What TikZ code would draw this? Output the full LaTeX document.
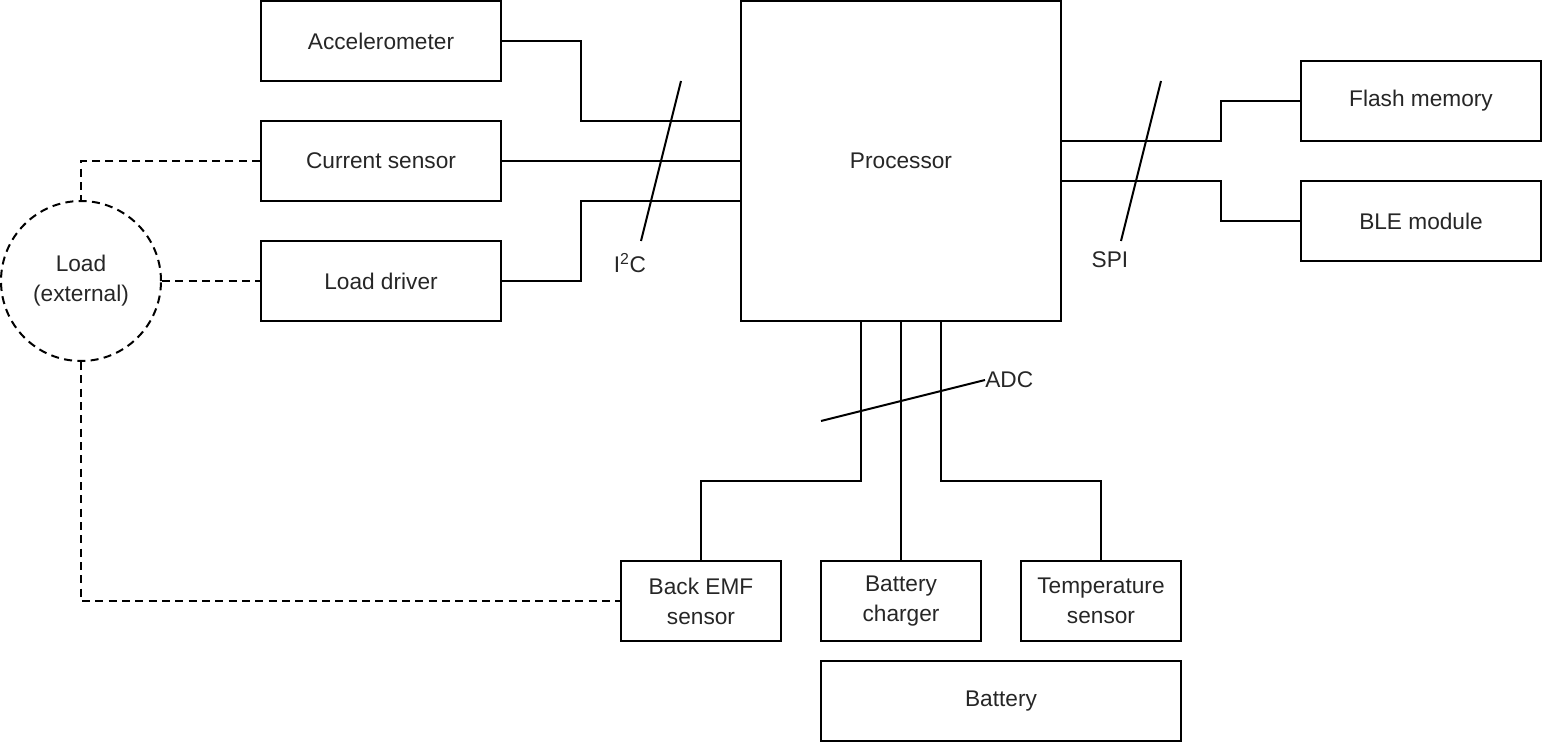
\documentclass[tikz,border=0pt]{standalone}
\usepackage{fontspec}
\setmainfont{Liberation Sans}
\begin{document}
\begin{tikzpicture}[x=0.75pt,y=-0.75pt,
  lw/.style={line width=1.5pt},
  blk/.style={draw,lw,inner sep=0pt,minimum width=#1*0.75pt,align=center,text=black!85},
  blk/.default=240,
  wire/.style={lw},
  dwire/.style={lw,dash pattern=on 6pt off 4pt},
  lbl/.style={inner sep=0pt,text=black!85},
  every node/.style={font=\fontsize{17}{22.5}\selectfont}]
\useasboundingbox (0,0) rectangle (1542,742);
% blocks
\node[blk, minimum height=60pt] (acc) at (381,41) {Accelerometer};
\node[blk, minimum height=60pt] (cur) at (381,161) {Current sensor};
\node[blk, minimum height=60pt] (drv) at (381,281) {Load driver};
\node[blk=320, minimum height=240pt] (cpu) at (901,161) {Processor};
\node[blk, minimum height=60pt] (flash) at (1421,101) {Flash memory};
\node[blk, minimum height=60pt] (ble) at (1421,221) {BLE module};
\node[circle, draw, dwire, minimum size=120pt, inner sep=0pt, align=center, text=black!85] (load) at (81,281) {Load\\(external)};
\node[blk=160, minimum height=60pt] (emf) at (701,601) {Back EMF\\sensor};
\node[blk=160, minimum height=60pt] (chg) at (901,601) {Battery\\charger};
\node[blk=160, minimum height=60pt] (temp) at (1101,601) {Temperature\\sensor};
\node[blk=360, minimum height=60pt] (bat) at (1001,701) {Battery};
% solid wires
\draw[wire] (acc.east) -| (581,121) -- (cpu.west |- 0,121);
\draw[wire] (cur.east) -- (cpu.west |- cur.east);
\draw[wire] (drv.east) -| (581,201) -- (cpu.west |- 0,201);
\draw[wire] (cpu.east |- 0,141) -| (1221,101) -- (flash.west);
\draw[wire] (cpu.east |- 0,181) -| (1221,221) -- (ble.west);
\draw[wire] (cpu.south -| 861,0) |- (701,481) -- (emf.north);
\draw[wire] (cpu.south) -- (chg.north);
\draw[wire] (cpu.south -| 941,0) |- (1101,481) -- (temp.north);
% dashed wires
\draw[dwire] (cur.west) -| (load.north);
\draw[dwire] (load.east) -- (drv.west);
\draw[dwire] (load.south) |- (emf.west);
% bus slashes
\node[lbl] (i2c) at (630,263) {I\textsuperscript{2}C};
\node[lbl] (spi) at (1110,260) {SPI};
\node[lbl, anchor=west] (adc) at (985,380) {ADC};
\coordinate (i2ct) at (681,81);
\coordinate (i2cb) at (641,241);
\coordinate (spit) at (1161,81);
\coordinate (spib) at (1121,241);
\coordinate (adcl) at (821,421);
\draw[wire] (i2ct) -- (i2cb);
\draw[wire] (spit) -- (spib);
\draw[wire] (adcl) -- (adc.west);
\end{tikzpicture}
\end{document}
